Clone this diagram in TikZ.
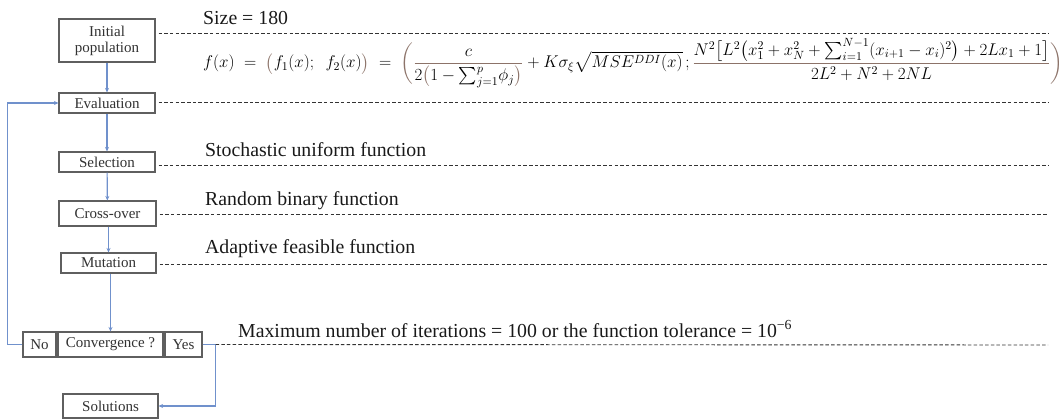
\RequirePackage{fix-cm}
\documentclass[tikz,border=0pt]{standalone}
\usepackage{amsmath}
\usepackage{fontspec}
\setmainfont{Liberation Serif}
\usetikzlibrary{arrows.meta,calc}
\definecolor{flowblue}{RGB}{112,145,204}
\definecolor{boxgray}{RGB}{95,95,95}
\definecolor{txtgray}{RGB}{50,50,50}
\definecolor{parbrown}{RGB}{140,115,105}
\tikzset{
  stepbox/.style={draw=boxgray, line width=1.1pt, fill=white, text=txtgray,
    font=\fontsize{15}{16}\selectfont, inner sep=0pt, align=center},
  flow/.style={draw=flowblue, line width=1.2pt, -{Stealth[length=4.5pt,width=4pt]}},
  guide/.style={draw=black!80, line width=0.9pt, dash pattern=on 3.5pt off 2.2pt, shorten <=3pt},
  lbl/.style={inner sep=0pt, anchor=base west, text=black!90, font=\fontsize{19.8}{21}\selectfont}
}
\begin{document}
\begin{tikzpicture}[x=1pt,y=-1pt]
\useasboundingbox (0,0) rectangle (1059,419);

% boxes
\node[stepbox, minimum width=96pt, minimum height=43pt] (init) at (107,40.5) {Initial\\population};
\node[stepbox, minimum width=96pt, minimum height=20pt] (eval) at (107,103) {Evaluation};
\node[stepbox, minimum width=96pt, minimum height=20pt] (sel) at (107,162) {Selection};
\node[stepbox, minimum width=97pt, minimum height=25pt] (cross) at (107.5,213.5) {Cross-over};
\node[stepbox, minimum width=95pt, minimum height=20pt] (mut) at (108.5,263) {Mutation};
\node[stepbox, minimum width=33pt, minimum height=25pt] (no) at (39.5,344.5) {No};
\node[stepbox, minimum width=105pt, minimum height=25pt] (conv) at (110.5,344.5) {Convergence ?};
\node[stepbox, minimum width=37pt, minimum height=25pt] (yes) at (183.5,344.5) {Yes};
\node[stepbox, minimum width=95pt, minimum height=24pt] (sol) at (110.5,406) {Solutions};

% right ends of the guide lines
\coordinate (r1) at (1048,33);
\coordinate (r2) at (1048,102.5);
\coordinate (r3) at (1048,165);
\coordinate (r4) at (1048,214);
\coordinate (r5) at (1048,264);
\coordinate (r6) at (1048,345);
\coordinate (yc) at ($(yes.east)+(13,0)$);

% connectors
\draw[flow] (init) -- (eval);
\draw[flow] (eval) -- (sel);
\draw[flow] (sel) -- (cross);
\draw[flow] (cross.south -| mut.north) -- (mut.north);
\draw[flow] (conv.north |- mut.south) -- (conv.north);
\draw[flow] (no.west) -- ++(-15,0) |- (eval.west);
\draw[flow] (yes.east) -- (yc) |- (sol.east);

% guide lines
\draw[guide] (init.east |- r1) -- (r1);
\draw[guide] (eval.east |- r2) -- (r2);
\draw[guide] (sel.east |- r3) -- (r3);
\draw[guide] (cross.east |- r4) -- (r4);
\draw[guide] (mut.east |- r5) -- (r5);
\draw[guide, shorten <=0pt] (yc) -- (r6);

% texts
\node[lbl] (t1) at (203,25) {Size = 180};
\node[lbl] (t2) at (205,157) {Stochastic uniform function};
\node[lbl] (t3) at (205,206) {Random binary function};
\node[lbl] (t4) at (205,254) {Adaptive feasible function};
\node[lbl] (t5) at (238,337) {Maximum number of iterations = 100 or the function tolerance = 10\textsuperscript{−6}};

% formula
\begin{scope}
\clip (0,0) rectangle (1059,419);
\node[inner sep=0pt, anchor=base west, font=\fontsize{17}{19}\selectfont] (fx) at (203,68)
{$\displaystyle f(x)\;=\;{\color{parbrown}\bigl(}f_1(x);\ \ f_2(x){\color{parbrown}\bigr)}\;=\;{\color{parbrown}\biggl(}{\color{parbrown}\frac{\color{black}c}{\color{black}2{\color{parbrown}\bigl(}1-{\textstyle\sum_{j=1}^{p}}\phi_j{\color{parbrown}\bigr)}}}+K\sigma_{\xi}\sqrt{MSE^{DDI}(x)}\,;{\color{parbrown}\frac{\color{black}N^2\bigl[L^2\bigl(x_1^2+x_N^2+{\textstyle\sum_{i=1}^{N-1}}(x_{i+1}-x_i)^2\bigr)+2Lx_1+1\bigr]}{\color{black}2L^2+N^2+2NL}}{\color{parbrown}\biggr)}$};
\end{scope}
\end{tikzpicture}
\end{document}
